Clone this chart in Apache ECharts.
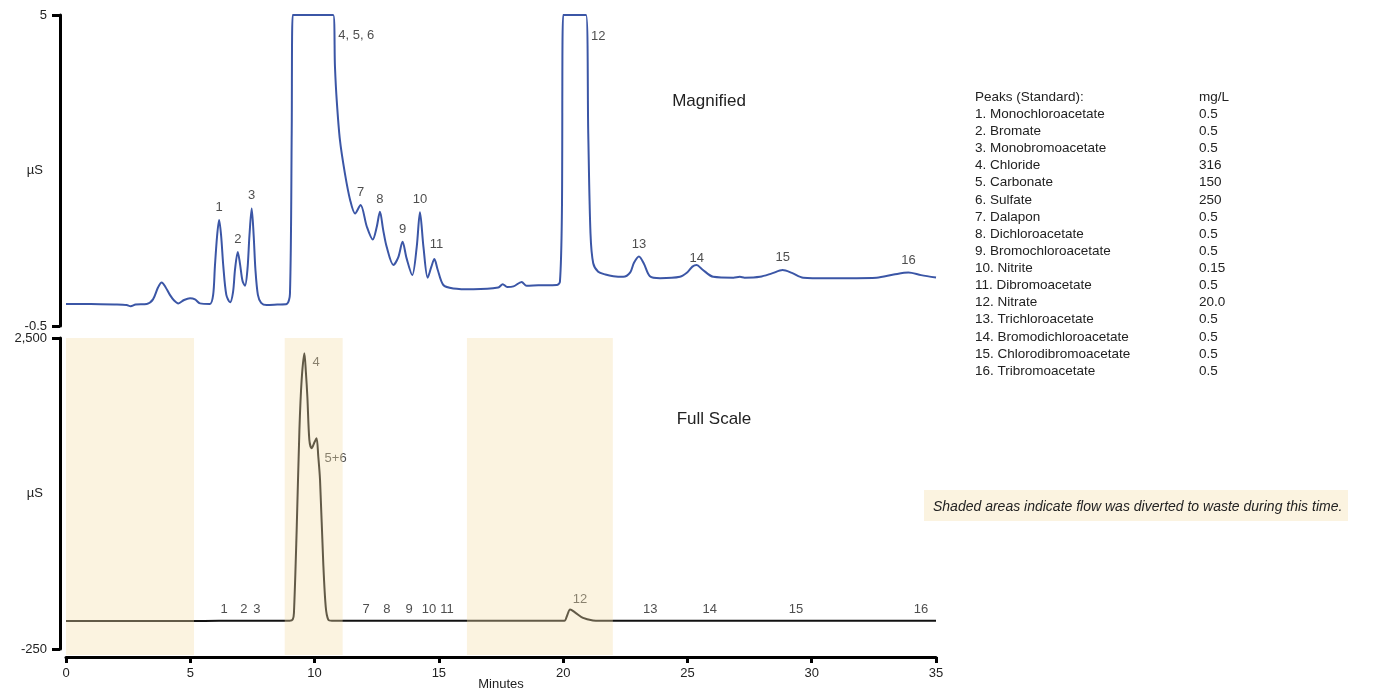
<!DOCTYPE html>
<html><head><meta charset="utf-8">
<script src="https://cdn.jsdelivr.net/npm/echarts@6/dist/echarts.min.js"></script>
<style>html,body{margin:0;padding:0;background:#fff}#c{width:1390px;height:689px}</style>
</head><body><div id="c"></div>
<script>
// ---- DATA ----
// Magnified trace (minutes, µS); flat tops are off-scale (saturated at 5)
const magnifiedTime = [0,1,2,2.44,2.6,2.8,3.25,3.5,3.7,3.85,4.0,4.18,4.35,4.52,4.75,4.99,5.19,5.39,5.79,5.92,5.99,6.08,6.16,6.24,6.33,6.45,6.6,6.72,6.8,6.91,7.0,7.1,7.2,7.3,7.38,7.47,7.55,7.62,7.72,7.85,8.07,8.5,8.88,9.01,9.08,9.12,10.75,10.82,10.89,11.02,11.22,11.43,11.63,11.85,12.1,12.34,12.5,12.63,12.76,12.9,13.17,13.37,13.54,13.7,13.93,14.11,14.24,14.38,14.55,14.7,14.82,14.95,15.18,15.58,16.39,17.39,17.57,17.75,18.0,18.33,18.53,19.0,19.74,19.87,19.95,20.0,20.92,21.01,21.1,21.21,21.41,21.7,22.02,22.42,22.7,22.85,23.05,23.25,23.49,23.9,24.7,25.0,25.2,25.37,25.6,26.04,26.85,27.11,27.3,27.92,28.4,28.83,29.2,29.66,30.6,32.61,33.3,33.89,34.4,35];
const magnifiedValue = [-0.11,-0.11,-0.12,-0.13,-0.15,-0.12,-0.11,-0.03,0.18,0.27,0.19,0.05,-0.05,-0.1,-0.04,-0.01,-0.03,-0.1,-0.11,0.05,0.55,1.1,1.375,1.1,0.55,0.05,-0.08,0.1,0.5,0.81,0.6,0.3,0.21,0.5,1.1,1.58,1.1,0.5,0.05,-0.09,-0.13,-0.12,-0.11,0.07,2.91,5,5,4.09,3.5,2.79,2.2,1.73,1.49,1.64,1.26,1.03,1.25,1.52,1.2,0.9,0.58,0.72,0.99,0.7,0.40,0.9,1.51,0.9,0.355,0.55,0.685,0.5,0.225,0.165,0.15,0.18,0.24,0.19,0.2,0.28,0.21,0.22,0.225,0.28,1.5,5,5,2.91,1.14,0.61,0.46,0.41,0.38,0.37,0.45,0.62,0.73,0.6,0.38,0.345,0.37,0.45,0.55,0.58,0.5,0.37,0.355,0.37,0.355,0.37,0.43,0.49,0.44,0.355,0.345,0.355,0.41,0.446,0.4,0.357];

// Full-scale trace (minutes, µS)
const fullTime  = [0,5,6.16,8,9.0,9.12,9.17,9.28,9.39,9.48,9.59,9.65,9.71,9.79,9.88,10.0,10.08,10.15,10.22,10.35,10.45,10.55,10.7,20.05,20.15,20.28,20.5,20.8,21.2,21.5,35];
const fullValue = [-3,-3,0,0,0,10,69,802,1687,2129,2365,2200,1981,1598,1525,1580,1613,1450,1244,507,120,10,0,0,40,100,70,25,3,0,0];

// Peak labels — magnified panel (anchor at peak apex)
const magLabelText  = ['1','2','3','4, 5, 6','7','8','9','10','11','12','13','14','15','16'];
const magLabelTime  = [6.16,6.91,7.47,10.75,11.85,12.63,13.54,14.24,14.82,20.92,23.05,25.37,28.83,33.89];
const magLabelValue = [1.375,0.81,1.58,5,1.64,1.52,0.99,1.51,0.685,5,0.73,0.58,0.49,0.446];

// Peak labels — full-scale panel
const fullLabelText  = ['1','2','3','4','5+6','7','8','9','10','11','12','13','14','15','16'];
const fullLabelTime  = [6.36,7.16,7.68,9.59,10.08,12.07,12.91,13.8,14.6,15.33,20.28,23.5,25.9,29.37,34.4];
const fullLabelValue = [0,0,0,2365,1613,0,0,0,0,0,100,0,0,0,0];

// Diverted-flow (shaded) time ranges, minutes
const shadedStart = [0, 8.8, 16.13];
const shadedEnd   = [5.15, 11.13, 22.0];

// Peak table
const peakNames = ['1. Monochloroacetate','2. Bromate','3. Monobromoacetate','4. Chloride','5. Carbonate','6. Sulfate','7. Dalapon','8. Dichloroacetate','9. Bromochloroacetate','10. Nitrite','11. Dibromoacetate','12. Nitrate','13. Trichloroacetate','14. Bromodichloroacetate','15. Chlorodibromoacetate','16. Tribromoacetate'];
const peakConc  = ['0.5','0.5','0.5','316','150','250','0.5','0.5','0.5','0.15','0.5','20.0','0.5','0.5','0.5','0.5'];

// Axis ticks
const xMin = 0, xMax = 35, xStep = 5;
const magMin = -0.5, magMax = 5;
const fullMin = -250, fullMax = 2500;

// ---- STYLE / LAYOUT ----
const FONT = 'Liberation Sans, Arial, sans-serif';
const TXT = '#222';
const SHADE_EXTRA_PX = 6; // shading runs slightly below the plot floor
const magLabelStyle = {
  '4, 5, 6': {position: 'right', distance: 5, offset: [0, 20]},
  '12': {position: 'right', distance: 5, offset: [0, 21]},
  '14': {offset: [0, 6]},
  '11': {offset: [2, -2]}
};
const fullLabelStyle = {
  '4': {position: 'right', distance: 8, offset: [0, 9]},
  '5+6': {position: 'right', distance: 8, offset: [0, 20]},
  '12': {distance: 3, offset: [10, 0]}
};

function zip(a, b) { return a.map((v, i) => [v, b[i]]); }
function labelData(txt, t, v, styles) {
  return txt.map((s, i) => {
    const o = {value: [t[i], v[i]], name: s};
    if (styles[s]) o.label = styles[s];
    return o;
  });
}

const yAxisCommon = {
  type: 'value', offset: 6, splitLine: {show: false},
  axisLine: {show: true, onZero: false, lineStyle: {color: '#000', width: 3}},
  axisTick: {show: true, length: 8, lineStyle: {color: '#000', width: 3}},
  axisLabel: {color: TXT, fontSize: 13, fontFamily: FONT, margin: 13},
  name: 'µS', nameLocation: 'middle', nameRotate: 0, nameGap: 17, nameMoveOverlap: false,
  nameTextStyle: {color: TXT, fontSize: 13, fontFamily: FONT, align: 'right'}
};

const chart = echarts.init(document.getElementById('c'), null, {renderer: 'canvas'});
const option = {
  animation: false,
  backgroundColor: '#fff',
  grid: [
    {left: 66, width: 870, top: 15, height: 311, outerBoundsMode: 'none', containLabel: false},
    {left: 66, width: 870, top: 338, height: 311, outerBoundsMode: 'none', containLabel: false}
  ],
  xAxis: [
    {gridIndex: 0, type: 'value', min: xMin, max: xMax, interval: xStep, show: false},
    {gridIndex: 1, type: 'value', min: xMin, max: xMax, interval: xStep, offset: 8,
     splitLine: {show: false},
     axisLine: {show: true, onZero: false, lineStyle: {color: '#000', width: 3}},
     axisTick: {show: true, length: 6, lineStyle: {color: '#000', width: 3}},
     axisLabel: {color: TXT, fontSize: 13, fontFamily: FONT, margin: 10},
     name: 'Minutes', nameLocation: 'middle', nameGap: 21, nameMoveOverlap: false,
     nameTextStyle: {color: TXT, fontSize: 13, fontFamily: FONT}}
  ],
  yAxis: [
    Object.assign({}, yAxisCommon, {gridIndex: 0, min: magMin, max: magMax, interval: magMax - magMin}),
    Object.assign({}, yAxisCommon, {gridIndex: 1, min: fullMin, max: fullMax, interval: fullMax - fullMin})
  ],
  series: [
    {type: 'line', xAxisIndex: 0, yAxisIndex: 0, data: zip(magnifiedTime, magnifiedValue),
     showSymbol: false, smooth: 0.3, silent: true,
     lineStyle: {color: '#3b56a6', width: 2}},
    {type: 'line', xAxisIndex: 1, yAxisIndex: 1, data: zip(fullTime, fullValue),
     showSymbol: false, smooth: 0.3, silent: true,
     lineStyle: {color: '#111', width: 2}},
    {type: 'scatter', xAxisIndex: 0, yAxisIndex: 0, symbolSize: 0, silent: true,
     data: labelData(magLabelText, magLabelTime, magLabelValue, magLabelStyle),
     label: {show: true, position: 'top', distance: 6, formatter: p => p.name,
             color: TXT, fontSize: 13, fontFamily: FONT}},
    {type: 'scatter', xAxisIndex: 1, yAxisIndex: 1, symbolSize: 0, silent: true,
     data: labelData(fullLabelText, fullLabelTime, fullLabelValue, fullLabelStyle),
     label: {show: true, position: 'top', distance: 5, formatter: p => p.name,
             color: TXT, fontSize: 13, fontFamily: FONT}},
    {type: 'custom', xAxisIndex: 1, yAxisIndex: 1, z: 10, silent: true, clip: false,
     data: zip(shadedStart, shadedEnd),
     renderItem: function (params, api) {
       const p0 = api.coord([api.value(0), fullMax]);
       const p1 = api.coord([api.value(1), fullMin]);
       return {type: 'rect',
         shape: {x: p0[0], y: p0[1], width: p1[0] - p0[0], height: p1[1] - p0[1] + SHADE_EXTRA_PX},
         style: {fill: 'rgba(244,221,168,0.36)'}};
     }}
  ],
  graphic: [
    {type: 'text', x: 709, y: 101, style: {text: 'Magnified', fontSize: 17, fontFamily: FONT, fill: TXT, align: 'center', verticalAlign: 'middle'}},
    {type: 'text', x: 714, y: 419, style: {text: 'Full Scale', fontSize: 17, fontFamily: FONT, fill: TXT, align: 'center', verticalAlign: 'middle'}},
    {type: 'rect', shape: {x: 924, y: 490, width: 424, height: 31}, style: {fill: '#fbf3e0'}},
    {type: 'text', x: 933, y: 507, style: {text: 'Shaded areas indicate flow was diverted to waste during this time.',
      fontSize: 14, fontStyle: 'italic', fontFamily: FONT, fill: TXT, verticalAlign: 'middle'}},
    {type: 'text', x: 975, y: 97, style: {text: 'Peaks (Standard):', fontSize: 13.5, fontFamily: FONT, fill: TXT, verticalAlign: 'middle'}},
    {type: 'text', x: 1199, y: 97, style: {text: 'mg/L', fontSize: 13.5, fontFamily: FONT, fill: TXT, verticalAlign: 'middle'}}
  ].concat(peakNames.map((n, i) => ({type: 'text', x: 975, y: 114.2 + i * 17.13,
      style: {text: n, fontSize: 13.5, fontFamily: FONT, fill: TXT, verticalAlign: 'middle'}})))
   .concat(peakConc.map((n, i) => ({type: 'text', x: 1199, y: 114.2 + i * 17.13,
      style: {text: n, fontSize: 13.5, fontFamily: FONT, fill: TXT, verticalAlign: 'middle'}})))
};
chart.setOption(option);
</script>
</body></html>
